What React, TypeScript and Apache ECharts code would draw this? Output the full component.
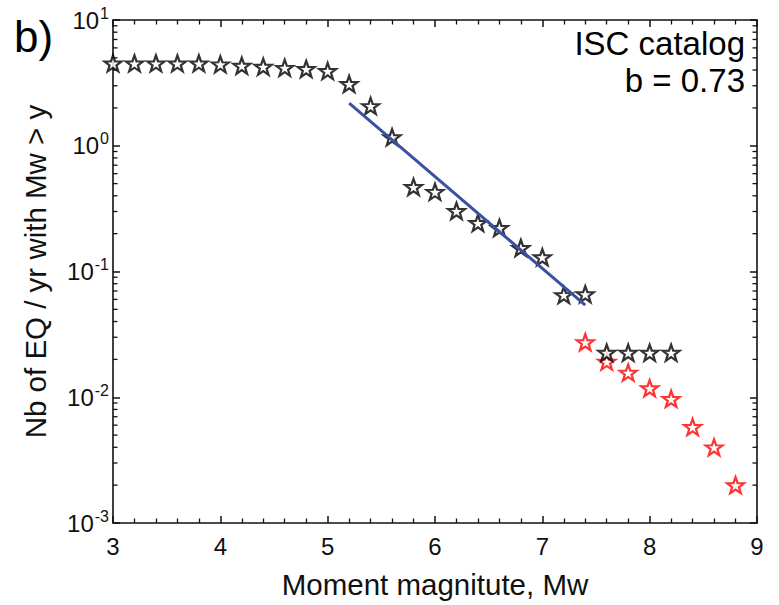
import React, { useEffect, useRef } from "react";
import * as echarts from "echarts";

// Magnitudes (Mw) and annual rates
const blackMag = [3.0, 3.2, 3.4, 3.6, 3.8, 4.0, 4.2, 4.4, 4.6, 4.8, 5.0, 5.2, 5.4, 5.6, 5.8, 6.0, 6.2, 6.4, 6.6, 6.8, 7.0, 7.2, 7.4, 7.6, 7.8, 8.0, 8.2];
const blackRate = [4.52, 4.52, 4.52, 4.52, 4.52, 4.44, 4.33, 4.25, 4.17, 4.08, 3.93, 3.1, 2.07, 1.17, 0.47, 0.43, 0.303, 0.243, 0.222, 0.154, 0.13, 0.065, 0.066, 0.0226, 0.0226, 0.0226, 0.0226];

const redMag = [7.4, 7.6, 7.8, 8.0, 8.2, 8.4, 8.6, 8.8];
const redRate = [0.0274, 0.0192, 0.0157, 0.0118, 0.0097, 0.0058, 0.004, 0.002];

const fitMag = [5.2, 7.4];
const fitRate = [2.18, 0.054];

const xTicks = [3, 4, 5, 6, 7, 8, 9];
const yDecades = [0.001, 0.01, 0.1, 1];
const yMinorMultipliers = [2, 3, 4, 5, 6, 7, 8, 9];

const STAR =
  "path://M0,-10L2.35,-3.24L9.51,-3.09L3.8,1.24L5.88,8.09L0,4L-5.88,8.09L-3.8,1.24L-9.51,-3.09L-2.35,-3.24Z";

const FONT = "'Liberation Sans', Arial, Helvetica, sans-serif";
const AX = "#111111";

export default function App() {
  const ref = useRef<HTMLDivElement>(null);
  useEffect(() => {
    if (!ref.current) return;
    const chart = echarts.init(ref.current, null, { renderer: "svg" });
    const minor: number[][] = [];
    yDecades.forEach((d) => yMinorMultipliers.forEach((m) => minor.push([xTicks[0], d * m])));

    const axisLine = { show: true, lineStyle: { color: AX, width: 1.6 } };
    const majorTick = { show: true, inside: true, length: 7, lineStyle: { color: AX, width: 1.5 } };
    const minorTick = { show: true, splitNumber: 5, length: 4.5, lineStyle: { color: AX, width: 1.3 } };
    const option: any = {
      animation: false,
      backgroundColor: "#fff",
      textStyle: { fontFamily: FONT },
      grid: { left: 113, top: 20, right: 22, bottom: 82 },
      xAxis: [
        {
          type: "value",
          min: 3,
          max: 9,
          interval: 1,
          position: "bottom",
          axisLine,
          axisTick: majorTick,
          minorTick,
          splitLine: { show: false },
          axisLabel: { fontSize: 24, color: "#111", margin: 11, fontFamily: FONT },
          name: "Moment magnitute, Mw",
          nameLocation: "middle",
          nameGap: 61,
          nameTextStyle: { fontSize: 29.5, color: "#111", verticalAlign: "middle", fontFamily: FONT },
        },
        {
          type: "value",
          min: 3,
          max: 9,
          interval: 1,
          position: "top",
          axisLine,
          axisTick: majorTick,
          minorTick,
          splitLine: { show: false },
          axisLabel: { show: false },
        },
      ],
      yAxis: [
        {
          type: "log",
          logBase: 10,
          min: 0.001,
          max: 10,
          position: "left",
          axisLine,
          axisTick: majorTick,
          splitLine: { show: false },
          axisLabel: {
            margin: 4,
            color: "#111",
            fontFamily: FONT,
            formatter: (v: number) => `{b|10}{e|${Math.round(Math.log10(v))}}`,
            rich: {
              b: { fontSize: 24, fontFamily: FONT, color: "#111" },
              e: { fontSize: 16, fontFamily: FONT, color: "#111", padding: [0, 0, 14, 1] },
            },
          },
          name: "Nb of EQ / yr with Mw > y",
          nameLocation: "middle",
          nameGap: 78,
          nameTextStyle: { fontSize: 29.5, color: "#111", verticalAlign: "middle", fontFamily: FONT },
        },
        {
          type: "log",
          logBase: 10,
          min: 0.001,
          max: 10,
          position: "right",
          axisLine,
          axisTick: majorTick,
          splitLine: { show: false },
          axisLabel: { show: false },
        },
      ],
      graphic: [
        { type: "text", left: 14, top: 14, style: { text: "b)", fontSize: 44, fontFamily: FONT, fill: "#000" } },
        { type: "text", right: 34, top: 27, style: { text: "ISC catalog", fontSize: 33, fontFamily: FONT, fill: "#000", textAlign: "right" } },
        { type: "text", right: 34, top: 64, style: { text: "b = 0.73", fontSize: 33, fontFamily: FONT, fill: "#000", textAlign: "right" } },
      ],
      series: [
        {
          type: "custom",
          xAxisIndex: 0,
          yAxisIndex: 0,
          silent: true,
          clip: false,
          data: minor,
          z: 10,
          renderItem: (_p: any, api: any) => {
            const v = api.value(1);
            const l = api.coord([3, v]);
            const r = api.coord([9, v]);
            return {
              type: "group",
              children: [
                { type: "line", shape: { x1: l[0], y1: l[1], x2: l[0] + 4.5, y2: l[1] }, style: { stroke: AX, lineWidth: 1.3 } },
                { type: "line", shape: { x1: r[0], y1: r[1], x2: r[0] - 4.5, y2: r[1] }, style: { stroke: AX, lineWidth: 1.3 } },
              ],
            };
          },
        },
        {
          name: "red",
          type: "scatter",
          data: redMag.map((m, i) => [m, redRate[i]]),
          symbol: STAR,
          symbolSize: [17, 16],
          itemStyle: { color: "#fff", borderColor: "#ff0000", borderWidth: 2.2 },
          z: 3,
        },
        {
          name: "black",
          type: "scatter",
          data: blackMag.map((m, i) => [m, blackRate[i]]),
          symbol: STAR,
          symbolSize: [17, 16],
          itemStyle: { color: "#fff", borderColor: "#000", borderWidth: 2.2 },
          z: 4,
        },
        {
          name: "fit",
          type: "line",
          data: fitMag.map((m, i) => [m, fitRate[i]]),
          showSymbol: false,
          symbol: "none",
          lineStyle: { color: "#3a50a2", width: 3 },
          z: 5,
        },
      ],
    };
    chart.setOption(option);
    return () => chart.dispose();
  }, []);
  return <div ref={ref} style={{ position: "absolute", left: 0, top: 0, width: 779, height: 605, background: "#fff" }} />;
}
